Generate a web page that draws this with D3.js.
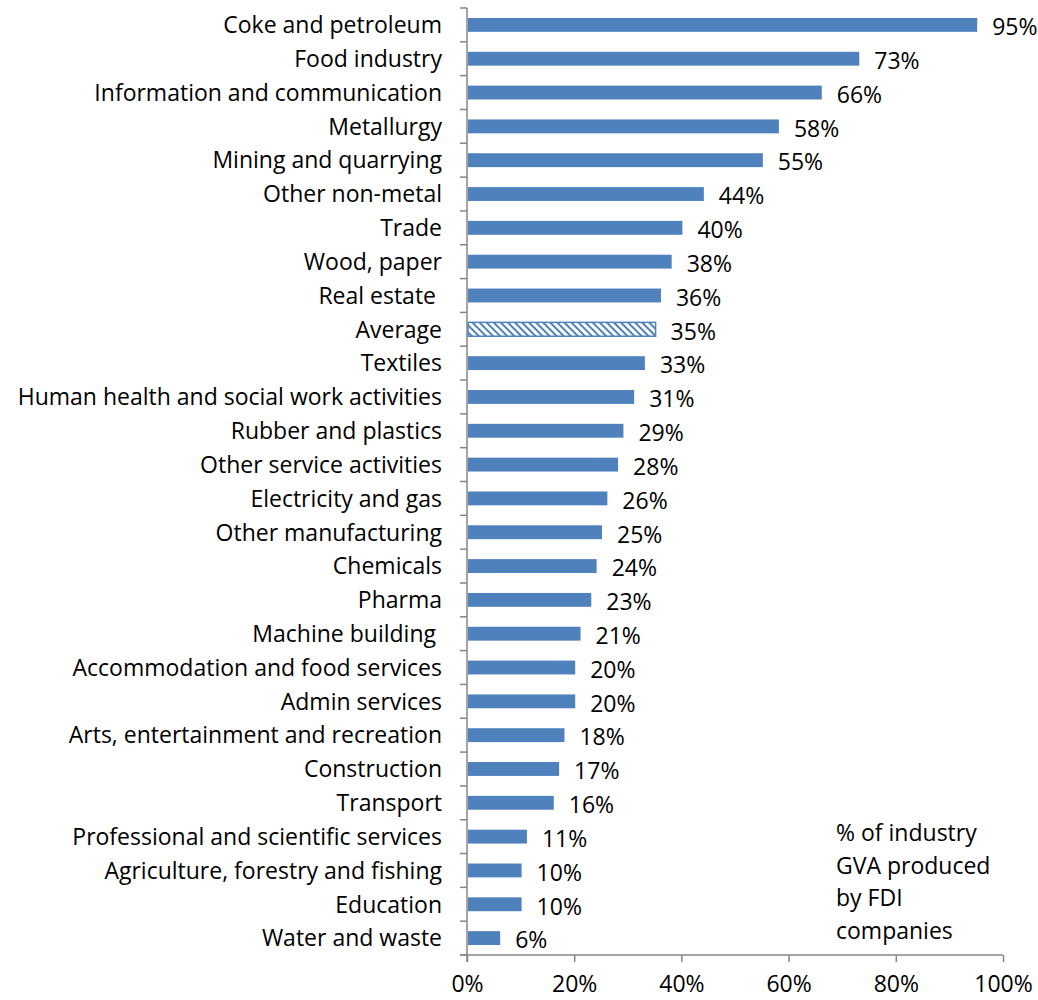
<!DOCTYPE html>
<html>
<head>
<meta charset="utf-8">
<script src="https://cdn.jsdelivr.net/npm/d3@7/dist/d3.min.js"></script>
<style>
  html, body { margin: 0; padding: 0; background: #fff; }
  svg { display: block; }
  text { font-family: "Open Sans", "Liberation Sans", sans-serif; fill: #000; }
</style>
</head>
<body>
<svg id="chart" width="1038" height="1000"></svg>
<script>
// Industries, top to bottom
const industries = [
  "Coke and petroleum", "Food industry", "Information and communication",
  "Metallurgy", "Mining and quarrying", "Other non-metal", "Trade",
  "Wood, paper", "Real estate ", "Average", "Textiles",
  "Human health and social work activities", "Rubber and plastics",
  "Other service activities", "Electricity and gas", "Other manufacturing",
  "Chemicals", "Pharma", "Machine building ", "Accommodation and food services",
  "Admin services", "Arts, entertainment and recreation", "Construction",
  "Transport", "Professional and scientific services",
  "Agriculture, forestry and fishing", "Education", "Water and waste"
];

// Share of industry GVA produced by FDI companies (%)
const fdiShare = [
  95, 73, 66, 58, 55, 44, 40, 38, 36, 35, 33, 31, 29, 28, 26, 25,
  24, 23, 21, 20, 20, 18, 17, 16, 11, 10, 10, 6
];

const axisTicks = [0, 20, 40, 60, 80, 100];
const noteLines = ["% of industry", "GVA produced", "by FDI", "companies"];
const highlighted = "Average";

const data = industries.map((name, i) => ({ name, value: fdiShare[i] }));

const svg = d3.select("#chart");
const plotLeft = 467, plotRight = 1003, plotTop = 8, plotBottom = 955;
const fontSize = 23;
const tickLen = 7;
const blue = "#4F81BD", axisGrey = "#868686";

const x = d3.scaleLinear().domain([0, 100]).range([plotLeft, plotRight]);
const y = d3.scaleBand().domain(industries).range([plotTop, plotBottom]).paddingInner(0.59).paddingOuter(0.295);

// Hatch pattern for the average bar (downward diagonals)
const defs = svg.append("defs");
const pat = defs.append("pattern")
  .attr("id", "hatch").attr("patternUnits", "userSpaceOnUse")
  .attr("width", 5).attr("height", 5)
  .attr("patternTransform", "rotate(-45)");
pat.append("rect").attr("width", 5).attr("height", 5).attr("fill", "#fff");
pat.append("rect").attr("x", 0).attr("width", 2).attr("height", 5).attr("fill", blue);

// Bars
svg.append("g").selectAll("rect").data(data).join("rect")
  .attr("x", x(0) + 1)
  .attr("y", d => y(d.name))
  .attr("width", d => x(d.value) - x(0))
  .attr("height", y.bandwidth())
  .attr("fill", d => d.name === highlighted ? "url(#hatch)" : blue)
  .attr("stroke", d => d.name === highlighted ? blue : "none")
  .attr("stroke-width", 1.5);

// Value labels
svg.append("g").selectAll("text").data(data).join("text")
  .attr("x", d => x(d.value) + 16)
  .attr("y", d => y(d.name) + y.bandwidth() / 2 + 2)
  .attr("dy", "0.36em")
  .attr("font-size", fontSize)
  .text(d => d.value + "%");

// Category axis
const band = y.step();
const yAxis = svg.append("g");
yAxis.append("line")
  .attr("x1", plotLeft).attr("x2", plotLeft).attr("y1", plotTop).attr("y2", plotBottom + tickLen)
  .attr("stroke", axisGrey).attr("stroke-width", 1.5);
yAxis.selectAll("line.tick").data(d3.range(industries.length + 1)).join("line")
  .attr("class", "tick")
  .attr("x1", plotLeft - tickLen).attr("x2", plotLeft)
  .attr("y1", i => plotTop + i * band).attr("y2", i => plotTop + i * band)
  .attr("stroke", axisGrey).attr("stroke-width", 1.5);
yAxis.selectAll("text").data(industries).join("text")
  .attr("x", plotLeft - 25)
  .attr("y", d => y(d) + y.bandwidth() / 2)
  .attr("dy", "0.36em")
  .attr("text-anchor", "end")
  .attr("font-size", fontSize)
  .style("white-space", "pre")
  .text(d => d);

// Value axis
const xAxis = svg.append("g")
  .attr("transform", `translate(0,${plotBottom})`)
  .call(d3.axisBottom(x).tickValues(axisTicks).tickSize(tickLen).tickPadding(14).tickFormat(d => d + "%"));
xAxis.select(".domain").attr("stroke", axisGrey).attr("stroke-width", 1.5)
  .attr("d", `M${plotLeft - tickLen},0H${plotRight}`);
xAxis.selectAll(".tick line").attr("stroke", axisGrey).attr("stroke-width", 1.5);
xAxis.selectAll(".tick text").attr("font-size", fontSize).attr("font-family", "'Open Sans', sans-serif").attr("fill", "#000");

// Note
svg.append("g").selectAll("text").data(noteLines).join("text")
  .attr("x", 836)
  .attr("y", (d, i) => 833 + i * 32.5)
  .attr("dy", "0.36em")
  .attr("font-size", fontSize)
  .text(d => d);
</script>
</body>
</html>
